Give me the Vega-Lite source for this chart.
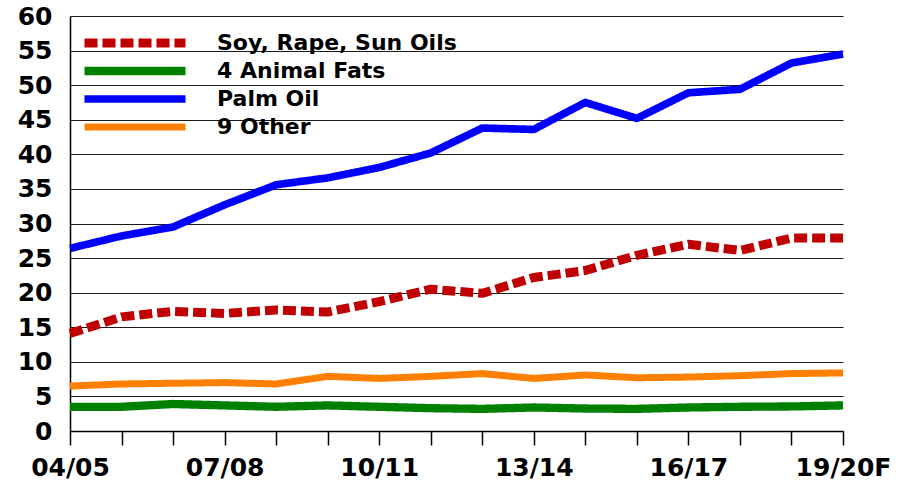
{
  "$schema": "https://vega.github.io/schema/vega-lite/v6.json",
  "autosize": {"type": "none"},
  "padding": {"left": 70, "top": 16, "right": 59, "bottom": 49},
  "width": 773,
  "height": 415,
  "background": "white",
  "config": {
    "view": {"stroke": null},
    "font": "DejaVu Sans"
  },
  "data": {
    "values": [
      {"year": "04/05", "series": "Soy, Rape, Sun Oils", "value": 14.1},
      {"year": "05/06", "series": "Soy, Rape, Sun Oils", "value": 16.5},
      {"year": "06/07", "series": "Soy, Rape, Sun Oils", "value": 17.3},
      {"year": "07/08", "series": "Soy, Rape, Sun Oils", "value": 17.0},
      {"year": "08/09", "series": "Soy, Rape, Sun Oils", "value": 17.5},
      {"year": "09/10", "series": "Soy, Rape, Sun Oils", "value": 17.2},
      {"year": "10/11", "series": "Soy, Rape, Sun Oils", "value": 18.7},
      {"year": "11/12", "series": "Soy, Rape, Sun Oils", "value": 20.5},
      {"year": "12/13", "series": "Soy, Rape, Sun Oils", "value": 19.9},
      {"year": "13/14", "series": "Soy, Rape, Sun Oils", "value": 22.2},
      {"year": "14/15", "series": "Soy, Rape, Sun Oils", "value": 23.2},
      {"year": "15/16", "series": "Soy, Rape, Sun Oils", "value": 25.4},
      {"year": "16/17", "series": "Soy, Rape, Sun Oils", "value": 27.0},
      {"year": "17/18", "series": "Soy, Rape, Sun Oils", "value": 26.1},
      {"year": "18/19", "series": "Soy, Rape, Sun Oils", "value": 27.9},
      {"year": "19/20F", "series": "Soy, Rape, Sun Oils", "value": 27.9},
      {"year": "04/05", "series": "4 Animal Fats", "value": 3.5},
      {"year": "05/06", "series": "4 Animal Fats", "value": 3.5},
      {"year": "06/07", "series": "4 Animal Fats", "value": 3.9},
      {"year": "07/08", "series": "4 Animal Fats", "value": 3.7},
      {"year": "08/09", "series": "4 Animal Fats", "value": 3.5},
      {"year": "09/10", "series": "4 Animal Fats", "value": 3.7},
      {"year": "10/11", "series": "4 Animal Fats", "value": 3.5},
      {"year": "11/12", "series": "4 Animal Fats", "value": 3.3},
      {"year": "12/13", "series": "4 Animal Fats", "value": 3.2},
      {"year": "13/14", "series": "4 Animal Fats", "value": 3.4},
      {"year": "14/15", "series": "4 Animal Fats", "value": 3.25},
      {"year": "15/16", "series": "4 Animal Fats", "value": 3.2},
      {"year": "16/17", "series": "4 Animal Fats", "value": 3.4},
      {"year": "17/18", "series": "4 Animal Fats", "value": 3.5},
      {"year": "18/19", "series": "4 Animal Fats", "value": 3.55},
      {"year": "19/20F", "series": "4 Animal Fats", "value": 3.7},
      {"year": "04/05", "series": "Palm Oil", "value": 26.4},
      {"year": "05/06", "series": "Palm Oil", "value": 28.2},
      {"year": "06/07", "series": "Palm Oil", "value": 29.5},
      {"year": "07/08", "series": "Palm Oil", "value": 32.7},
      {"year": "08/09", "series": "Palm Oil", "value": 35.6},
      {"year": "09/10", "series": "Palm Oil", "value": 36.6},
      {"year": "10/11", "series": "Palm Oil", "value": 38.1},
      {"year": "11/12", "series": "Palm Oil", "value": 40.2},
      {"year": "12/13", "series": "Palm Oil", "value": 43.8},
      {"year": "13/14", "series": "Palm Oil", "value": 43.6},
      {"year": "14/15", "series": "Palm Oil", "value": 47.5},
      {"year": "15/16", "series": "Palm Oil", "value": 45.2},
      {"year": "16/17", "series": "Palm Oil", "value": 48.9},
      {"year": "17/18", "series": "Palm Oil", "value": 49.4},
      {"year": "18/19", "series": "Palm Oil", "value": 53.2},
      {"year": "19/20F", "series": "Palm Oil", "value": 54.5},
      {"year": "04/05", "series": "9 Other", "value": 6.5},
      {"year": "05/06", "series": "9 Other", "value": 6.8},
      {"year": "06/07", "series": "9 Other", "value": 6.9},
      {"year": "07/08", "series": "9 Other", "value": 7.0},
      {"year": "08/09", "series": "9 Other", "value": 6.8},
      {"year": "09/10", "series": "9 Other", "value": 7.9},
      {"year": "10/11", "series": "9 Other", "value": 7.6},
      {"year": "11/12", "series": "9 Other", "value": 7.9},
      {"year": "12/13", "series": "9 Other", "value": 8.3},
      {"year": "13/14", "series": "9 Other", "value": 7.6},
      {"year": "14/15", "series": "9 Other", "value": 8.1},
      {"year": "15/16", "series": "9 Other", "value": 7.7},
      {"year": "16/17", "series": "9 Other", "value": 7.8},
      {"year": "17/18", "series": "9 Other", "value": 8.0},
      {"year": "18/19", "series": "9 Other", "value": 8.3},
      {"year": "19/20F", "series": "9 Other", "value": 8.4}
    ]
  },
  "mark": {"type": "line", "strokeCap": "butt", "strokeJoin": "round"},
  "encoding": {
    "x": {
      "field": "year",
      "type": "ordinal",
      "sort": null,
      "scale": {"type": "point", "padding": 0},
      "axis": {
        "title": null,
        "labelAngle": 0,
        "labelOverlap": false,
        "labelExpr": "indexof(['04/05','07/08','10/11','13/14','16/17','19/20F'], datum.value) >= 0 ? datum.value : ''",
        "labelFont": "DejaVu Sans",
        "labelFontWeight": "bold",
        "labelFontSize": 25,
        "labelColor": "black",
        "labelPadding": 10,
        "tickSize": 14,
        "tickColor": "black",
        "tickWidth": 1.5,
        "domainColor": "black",
        "domainWidth": 1.5,
        "grid": false
      }
    },
    "y": {
      "field": "value",
      "type": "quantitative",
      "scale": {"domain": [0, 60], "nice": false},
      "axis": {
        "title": null,
        "values": [0, 5, 10, 15, 20, 25, 30, 35, 40, 45, 50, 55, 60],
        "ticks": false,
        "labelPadding": 18,
        "labelFont": "DejaVu Sans",
        "labelFontWeight": "bold",
        "labelFontSize": 25,
        "labelColor": "black",
        "domainColor": "black",
        "domainWidth": 1.5,
        "grid": true,
        "gridColor": "#1a1a1a",
        "gridWidth": 1.2,
        "gridOpacity": 1
      }
    },
    "color": {
      "field": "series",
      "type": "nominal",
      "scale": {
        "domain": ["Soy, Rape, Sun Oils", "4 Animal Fats", "Palm Oil", "9 Other"],
        "range": ["#C00000", "#008000", "#0000FF", "#FF8000"]
      },
      "legend": {
        "title": null,
        "orient": "none",
        "legendX": 10,
        "legendY": 17,
        "padding": 0,
        "symbolType": "stroke",
        "symbolSize": 10201,
        "clipHeight": 20,
        "labelFont": "DejaVu Sans",
        "labelFontWeight": "bold",
        "labelFontSize": 22,
        "labelColor": "black",
        "labelOffset": 27,
        "rowPadding": 6,
        "labelLimit": 400
      }
    },
    "strokeDash": {
      "field": "series",
      "type": "nominal",
      "scale": {
        "domain": ["Soy, Rape, Sun Oils", "4 Animal Fats", "Palm Oil", "9 Other"],
        "range": [[13, 5], [1, 0], [1, 0], [1, 0]]
      },
      "legend": null
    },
    "strokeWidth": {
      "field": "series",
      "type": "nominal",
      "scale": {
        "domain": ["Soy, Rape, Sun Oils", "4 Animal Fats", "Palm Oil", "9 Other"],
        "range": [9, 7, 8, 5]
      },
      "legend": null
    }
  }
}
